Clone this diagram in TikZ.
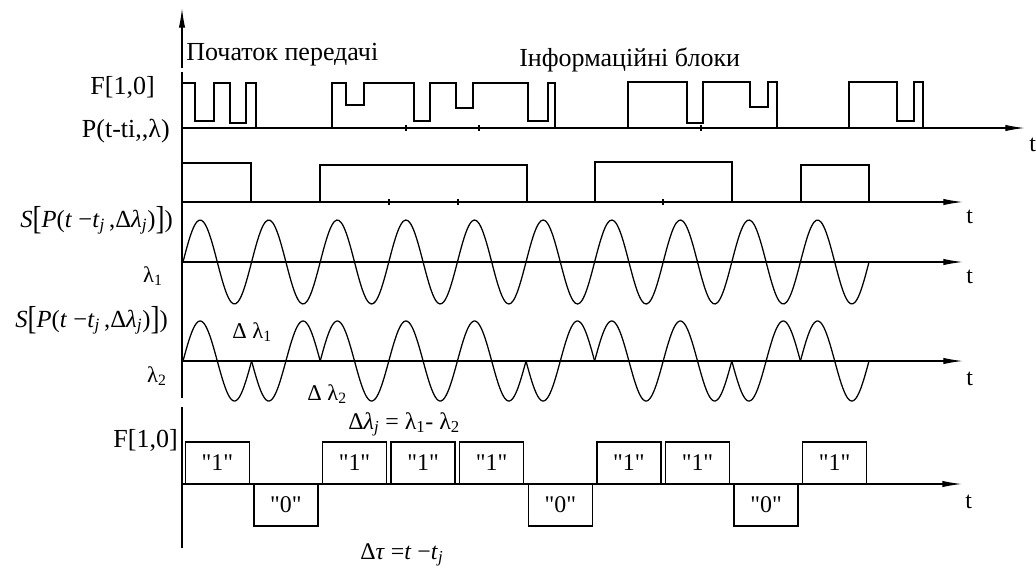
\documentclass[tikz,border=0pt]{standalone}
\usepackage{fix-cm}
\usepackage{graphicx}
\usepackage{fontspec}
\setmainfont{Liberation Serif}[Ligatures=TeXOff]
\usetikzlibrary{arrows.meta}

\newcommand\tallbr[1]{\raisebox{-0.12em}{\scalebox{1.1}[1.35]{#1}}}

\tikzset{
  sig/.style={line width=0.9pt},
  wave/.style={line width=0.9pt,smooth,samples=60},
  axis/.style={line width=0.9pt,-{Latex[length=14pt,width=4.5pt]}},
  lbl/.style={inner sep=0pt,font=\fontsize{18.5}{22}\selectfont},
  tlbl/.style={inner sep=0pt,font=\fontsize{17}{20}\selectfont,anchor=base west},
  mlbl/.style={inner sep=0pt,font=\fontsize{17.5}{20}\selectfont,anchor=base east},
  glbl/.style={inner sep=0pt,font=\fontsize{16}{19}\selectfont,anchor=base west},
  bitbox/.style={draw,line width=0.9pt,minimum width=1.6cm,minimum height=1.05cm,
    inner sep=0pt,font=\fontsize{17}{20}\selectfont},
}

\begin{document}
\begin{tikzpicture}[x=0.025cm,y=-0.025cm]
  \useasboundingbox (0,0) rectangle (1036,567);
  % vertical axis
  \coordinate (top) at (182,8);
  \draw[sig] (182,548) -- (182,407) (182,398) -- (182,72);
  \draw[axis] (182,68) -- (top);
  % time axes
  \foreach \n/\y/\e in {1/128/1025,2/202/963,3/262/963,4/361/963,5/484/962} {
    \coordinate (o\n) at (182,\y);
    \coordinate (e\n) at (\e,\y);
    \draw[axis] (o\n) -- (e\n);
  }
  \node[tlbl] (t1) at (1029,151) {t};
  \node[tlbl] (t2) at (966,223) {t};
  \node[tlbl] (t3) at (966,283) {t};
  \node[tlbl] (t4) at (966,385) {t};
  \node[tlbl] (t5) at (965,508) {t};

  \node[lbl,anchor=base west] (start) at (186,60) {Початок передачі};
  \node[lbl,anchor=base west] (blocks) at (519,66) {Інформаційні блоки};

  % row 1: transmitted code
  \draw[sig] (182,83) -- (195,83) -- (195,121) -- (214,121) -- (214,83) -- (230,83)
    -- (230,123) -- (246,123) -- (246,83) -- (256,83) -- (256,128);
  \draw[sig] (332,128) -- (332,83) -- (346,83) -- (346,105) -- (364,105) -- (364,83)
    -- (414,83) -- (414,121) -- (430,121) -- (430,83) -- (456,83) -- (456,108)
    -- (473,108) -- (473,83) -- (528,83) -- (528,121) -- (548,121) -- (548,83)
    -- (555,83) -- (555,128);
  \draw[sig] (628,128) -- (628,82) -- (687,82) -- (687,123) -- (703,123) -- (703,82)
    -- (750,82) -- (750,107) -- (768,107) -- (768,82) -- (777,82) -- (777,128);
  \draw[sig] (849,128) -- (849,82) -- (897,82) -- (897,121) -- (914,121) -- (914,82)
    -- (923,82) -- (923,128);
  \foreach \x in {406,479,701} \draw[sig] (\x,125) -- (\x,131);
  \node[lbl,anchor=base east] (f1) at (155,94) {F[1,0]};
  \node[lbl,anchor=base east] (p1) at (170,137) {P(t-ti,,λ)};

  % row 2: modulating pulses
  \draw[sig] (182,202) -- (182,163) -- (251,163) -- (251,202);
  \draw[sig] (320,202) -- (320,165) -- (527,165) -- (527,202);
  \draw[sig] (595,202) -- (595,162) -- (732,162) -- (732,202);
  \draw[sig] (801,202) -- (801,165) -- (869,165) -- (869,202);
  \foreach \x in {389,458,663} \draw[sig] (\x,199) -- (\x,205);

  % row 3: carrier lambda 1  (period 68.6 px, 360/68.6 = 5.2478)
  \draw[wave,samples=300,domain=183:869] plot (\x,{262-42*sin((\x-183)*5.2478)});
  \node[mlbl] (s1) at (173,227) {\textit{S}\tallbr{[}\textit{P}(\textit{t} −\textit{t}\textsubscript{\textit{j}}\,,Δ\textit{λ}\textsubscript{\textit{j}})\tallbr{]})};
  \node[glbl,anchor=base east] (l1) at (163,282) {λ\textsubscript{1}};

  % row 4: phase-keyed lambda 2
  \foreach \k/\s in {0/1,1/-1,2/1,3/1,4/1,5/-1,6/1,7/1,8/-1,9/1} {
    \pgfmathsetmacro\xa{183+\k*68.6}
    \pgfmathsetmacro\xb{183+(\k+1)*68.6}
    \draw[wave,domain=\xa:\xb] plot (\x,{361-40*\s*sin((\x-183)*5.2478)});
  }
  \node[mlbl] (s2) at (168,327) {\textit{S}\tallbr{[}\textit{P}(\textit{t} −\textit{t}\textsubscript{\textit{j}}\,,Δ\textit{λ}\textsubscript{\textit{j}})\tallbr{]})};
  \node[glbl,anchor=base east] (l2) at (167,382) {λ\textsubscript{2}};
  \node[glbl] (dl1) at (232,338) {Δ λ\textsubscript{1}};
  \node[glbl] (dl2) at (307,400) {Δ λ\textsubscript{2}};
  \node[glbl,font=\fontsize{17}{20}\selectfont] (dlj) at (348,429) {Δ\textit{λ}\textsubscript{\textit{j}} = λ\textsubscript{1}- λ\textsubscript{2}};

  % row 5: decoded bits
  \foreach \k/\b in {0/1,1/0,2/1,3/1,4/1,5/0,6/1,7/1,8/0,9/1} {
    \pgfmathsetmacro\cx{183+(\k+0.5)*68.6}
    \ifnum\b=1 \def\cy{463}\else\def\cy{505}\fi
    \node[bitbox] (bit\k) at (\cx,\cy) {"\b"};
  }
  \node[lbl,anchor=base east] (f2) at (178,447) {F[1,0]};
  \node[glbl,font=\fontsize{17}{20}\selectfont] (dtau) at (360,559) {Δ\textit{τ} =\textit{t} −\textit{t}\textsubscript{\textit{j}}};
\end{tikzpicture}
\end{document}
